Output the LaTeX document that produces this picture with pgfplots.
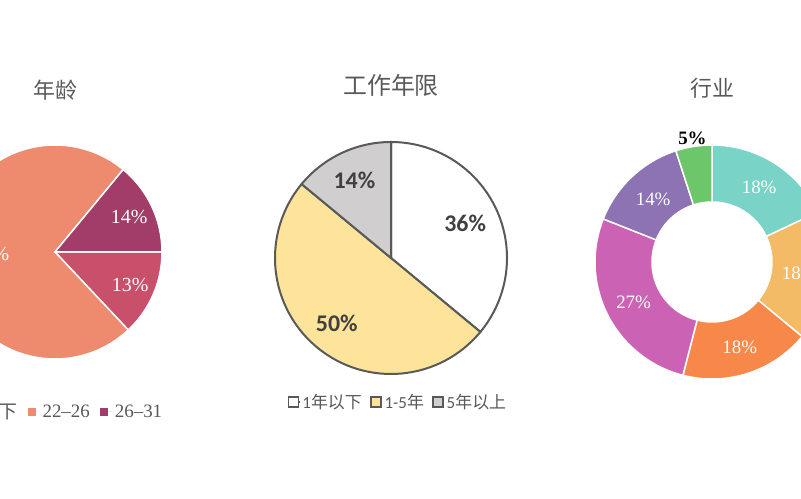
\documentclass[border=0pt]{standalone}
\usepackage{pgfplots}
\pgfplotsset{compat=1.18}
\usepackage{pgfplotstable}
\usepackage{fontspec}
\setmainfont{Liberation Serif}
\newfontfamily\cjk{Noto Sans CJK SC}
\newfontfamily\calibri{Carlito}

\definecolor{textgray}{HTML}{595959}
\definecolor{labgray}{HTML}{404040}
\definecolor{agered}{HTML}{C9506A}
\definecolor{agesalmon}{HTML}{EE8B6E}
\definecolor{agemag}{HTML}{A13D68}
\definecolor{midyellow}{HTML}{FDE49A}
\definecolor{midgrey}{HTML}{D0CECE}
\definecolor{outline}{HTML}{595959}
\definecolor{indteal}{HTML}{79D4C7}
\definecolor{indlorange}{HTML}{F3BB65}
\definecolor{indorange}{HTML}{F7884A}
\definecolor{indmagenta}{HTML}{CC62B4}
\definecolor{indpurple}{HTML}{8D72B4}
\definecolor{indgreen}{HTML}{6DC66A}

% slices go clockwise from the start angle; lr = label radius, st = label style
\pgfplotstableread{
pct col lr st
13 agered 82 wlab
73 agesalmon 64 wlab
14 agemag 82 wlab
}\agetab

\pgfplotstableread{
pct col lr st
36 white 82 mlab
50 midyellow 85 mlab
14 midgrey 86 mlab
}\worktab

\pgfplotstableread{
pct col lr st
18 indteal 88 slab
18 indlorange 88 slab
18 indorange 90 slab
27 indmagenta 88 slab
14 indpurple 86 slab
5 indgreen 125 blab
}\indtab

\tikzset{
  wlab/.style={text=white, font=\fontsize{20}{24}\selectfont},
  slab/.style={text=white, font=\fontsize{19}{23}\selectfont},
  blab/.style={text=black, font=\bfseries\fontsize{19}{22}\selectfont},
  mlab/.style={text=labgray, font=\calibri\bfseries\fontsize{24}{28}\selectfont},
}

% #1 table, #2 start angle, #3 outer radius, #4 inner radius, #5 slice style
\newcommand\pieslices[5]{%
  \pgfplotstablegetrowsof{#1}%
  \pgfmathtruncatemacro\pLast{\pgfplotsretval-1}%
  \edef\pA{#2}%
  \pgfplotsforeachungrouped \pK in {0,...,\pLast}{%
    \pgfplotstablegetelem{\pK}{pct}\of{#1}\let\pP\pgfplotsretval
    \pgfplotstablegetelem{\pK}{col}\of{#1}\let\pC\pgfplotsretval
    \pgfplotstablegetelem{\pK}{lr}\of{#1}\let\pR\pgfplotsretval
    \pgfplotstablegetelem{\pK}{st}\of{#1}\let\pS\pgfplotsretval
    \pgfmathsetmacro\pB{\pA-3.6*\pP}%
    \pgfmathsetmacro\pM{(\pA+\pB)/2}%
    \pgfmathsetmacro\pXo{#3*cos(\pA)}\pgfmathsetmacro\pYo{#3*sin(\pA)}%
    \pgfmathsetmacro\pXi{#4*cos(\pB)}\pgfmathsetmacro\pYi{#4*sin(\pB)}%
    \pgfmathsetmacro\pXl{\pR*cos(\pM)}\pgfmathsetmacro\pYl{\pR*sin(\pM)}%
    \ifdim#4pt=0pt
      \edef\pCmd{\noexpand\path[fill=\pC,#5] (axis cs:0,0) -- (axis cs:\pXo,\pYo)
        arc[start angle=\pA,end angle=\pB,radius=#3bp] -- cycle;}%
    \else
      \edef\pCmd{\noexpand\path[fill=\pC,#5] (axis cs:\pXo,\pYo)
        arc[start angle=\pA,end angle=\pB,radius=#3bp] -- (axis cs:\pXi,\pYi)
        arc[start angle=\pB,end angle=\pA,radius=#4bp] -- cycle;}%
    \fi
    \pCmd
    \edef\pCmd{\noexpand\node[\pS] at (axis cs:\pXl,\pYl) {\pP\noexpand\%};}\pCmd
    \let\pA\pB
  }%
}

\pgfplotsset{
  pieaxis/.style={
    x=1bp, y=1bp, xmin=-150, xmax=150, ymin=-200, ymax=200,
    hide axis, clip=false, anchor=origin,
    legend columns=-1,
    legend style={draw=none, fill=none, anchor=center, text=textgray,
      /tikz/every even column/.append style={column sep=8bp}},
    legend image code/.code={\path (0bp,0bp) -- (13bp,0bp);
      \path[##1] (0bp,-4bp) rectangle (8bp,4bp);},
  },
  boxlegend/.style={
    legend image code/.code={\path (0bp,0bp) -- (11bp,0bp);
      \path[##1] (0bp,-5bp) rectangle (10bp,5bp);},
  },
}

\begin{document}
\begin{tikzpicture}
\useasboundingbox (0,0) rectangle (801bp,499bp);
\clip (0,0) rectangle (801bp,499bp);

% age
\begin{axis}[pieaxis, at={(55bp,247bp)},
  legend style={at={(0.5,0.1)}, font=\fontsize{19}{22}\selectfont}]
\addlegendimage{fill=agered, draw=none}
\addlegendimage{fill=agesalmon, draw=none}
\addlegendimage{fill=agemag, draw=none}
\legend{22{\cjk 以下}, 22--26, 26--31}
\pieslices{\agetab}{0}{107}{0}{draw=white, line width=1.5bp}
\node[font=\cjk\fontsize{22}{26}\selectfont, text=textgray] at (axis cs:0,162) {年龄};
\end{axis}

% years of work
\begin{axis}[pieaxis, boxlegend, at={(391bp,241bp)},
  legend style={at={(0.523,0.14)}, font=\calibri\fontsize{17}{20}\selectfont,
    /tikz/every even column/.append style={column sep=6bp}}]
\addlegendimage{fill=white, draw=outline, line width=1.8bp}
\addlegendimage{fill=midyellow, draw=outline, line width=1.8bp}
\addlegendimage{fill=midgrey, draw=outline, line width=1.8bp}
\legend{1{\cjk 年以下}, 1-5{\cjk 年}, 5{\cjk 年以上}}
\pieslices{\worktab}{90}{116}{0}{draw=outline, line width=2bp}
\node[font=\cjk\fontsize{24}{28}\selectfont, text=textgray] at (axis cs:0,173) {工作年限};
\end{axis}

% industry
\begin{axis}[pieaxis, at={(712bp,237bp)}]
\pieslices{\indtab}{90}{117}{60}{draw=white, line width=1.5bp}
\node[font=\cjk\fontsize{22}{26}\selectfont, text=textgray] at (axis cs:0,174) {行业};
\end{axis}
\end{tikzpicture}
\end{document}
